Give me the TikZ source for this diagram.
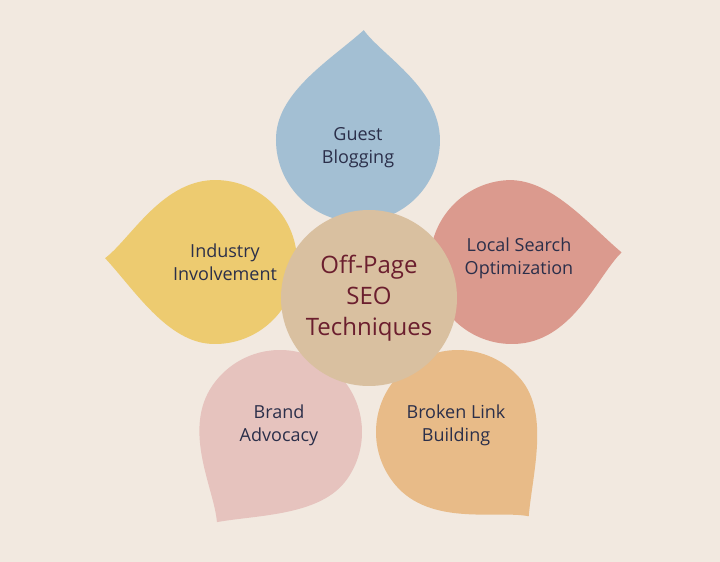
\documentclass[tikz,border=0pt]{standalone}
\usepackage{fontspec}
\setmainfont{Open Sans}
\begin{document}
\begin{tikzpicture}[x=0.5pt,y=-0.5pt,
  lbl/.style={text=labeltxt,font=\fontsize{9}{11.5}\selectfont,align=center},
  pics/petal/.style={code={
    \fill[#1] (0,-110) .. controls (20,-85) and (82,-55) .. (82,0)
      arc[start angle=0,end angle=180,radius=82]
      .. controls (-82,-45) and (-30,-80) .. (0,-110) -- cycle;}}]
\definecolor{bg}{HTML}{F2E9E0}
\definecolor{labeltxt}{HTML}{2B2F4A}
\definecolor{cblue}{HTML}{A3BFD3}
\definecolor{cred}{HTML}{DB9A8E}
\definecolor{corange}{HTML}{E8BB88}
\definecolor{cpink}{HTML}{E6C3BE}
\definecolor{cyellow}{HTML}{EDCB70}
\definecolor{ccenter}{HTML}{D9C0A0}
\definecolor{cmaroon}{HTML}{6B1E2E}
\fill[bg] (0,0) rectangle (720,562);
\pic[rotate=-3] at (358,140) {petal=cblue};
\pic[rotate=-85] at (512,262) {petal=cred};
\pic[rotate=-140] at (458,432) {petal=corange};
\pic[rotate=-215] at (280,432) {petal=cpink};
\pic[rotate=-272] at (215,262) {petal=cyellow};
\node[circle,fill=ccenter,minimum size=88pt,inner sep=0pt] (c) at (369,298) {};
\node[text=cmaroon,font=\fontsize{12}{15.5}\selectfont,align=center] (ct) at (369,298) {Off-Page\\SEO\\Techniques};
\node[lbl] (g) at (358,148) {Guest\\Blogging};
\node[lbl] (l) at (519,258) {Local Search\\Optimization};
\node[lbl] (b) at (456,425) {Broken Link\\Building};
\node[lbl] (a) at (279,425) {Brand\\Advocacy};
\node[lbl] (i) at (225,262) {Industry\\Involvement};
\end{tikzpicture}
\end{document}
